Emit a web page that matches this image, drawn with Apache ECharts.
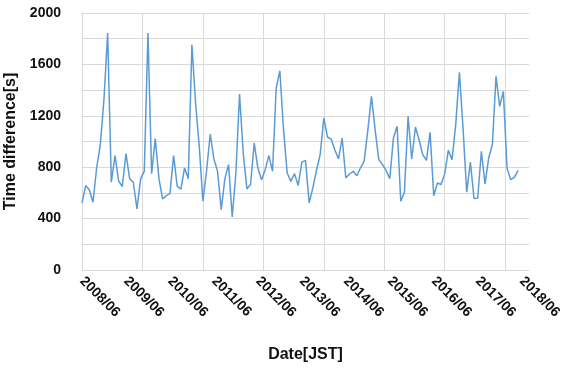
<!doctype html>
<html>
<head>
<meta charset="utf-8">
<title>Time difference</title>
<script src="https://cdn.jsdelivr.net/npm/echarts@6/dist/echarts.min.js"></script>
<style>
  html, body { margin: 0; padding: 0; background: #fff; }
  #main { width: 564px; height: 368px; }
</style>
</head>
<body>
<div id="main"></div>
<script>
// monthly values, 2008/06 .. 2018/05
var startYear = 2008, startMonth = 6, monthCount = 123;
var timeDiff = [
  522, 657, 625, 527, 794, 975, 1330, 1844, 683, 890, 694, 650, 905, 711, 683, 475, 711, 768, 1844, 750,
  1022, 711, 553, 579, 594, 890, 650, 630, 794, 711, 1753, 1300, 962, 535, 773, 1058, 864, 768, 470, 711,
  820, 413, 755, 1370, 911, 631, 665, 988, 794, 703, 781, 892, 768, 1416, 1551, 1092, 755, 690, 750, 657,
  840, 853, 522, 638, 776, 898, 1183, 1035, 1019, 936, 864, 1027, 716, 747, 768, 734, 794, 846, 1084, 1351,
  1092, 859, 820, 775, 711, 1027, 1118, 535, 605, 1196, 864, 1113, 1014, 898, 853, 1071, 578, 677, 665, 750,
  932, 859, 1131, 1538, 1100, 605, 840, 556, 560, 923, 670, 872, 975, 1507, 1274, 1390, 794, 703, 721, 776
];
var yTicks = [0, 400, 800, 1200, 1600, 2000];

var months = [];
for (var i = 0; i < monthCount; i++) {
  var m = startMonth - 1 + i;
  var y = startYear + Math.floor(m / 12);
  var mm = (m % 12) + 1;
  months.push(y + '/' + (mm < 10 ? '0' + mm : mm));
}

var myChart = echarts.init(document.getElementById('main'));
var option = {
  animation: false,
  textStyle: { fontFamily: 'Liberation Sans, Arial, sans-serif' },
  grid: { left: 82, top: 13, right: 35, bottom: 98, outerBoundsMode: 'none', containLabel: false },
  xAxis: [{
    type: 'category',
    data: months,
    boundaryGap: false,
    name: 'Date[JST]',
    nameLocation: 'middle',
    nameGap: 77,
    nameTextStyle: { fontSize: 16, fontWeight: 'bold', color: '#111' },
    axisLine: { lineStyle: { color: '#d9d9d9' } },
    axisTick: { show: false },
    splitLine: { show: false },
    axisLabel: { interval: 11, rotate: -45, margin: 9, fontSize: 14, fontWeight: 'bold', color: '#111' }
  }, {
    // vertical grid lines of the original sit every 16.5 months
    type: 'value',
    min: 0,
    max: monthCount - 1,
    interval: 16.5,
    position: 'bottom',
    axisLine: { show: false },
    axisTick: { show: false },
    axisLabel: { show: false },
    splitLine: { show: true, showMinLine: false, showMaxLine: false, lineStyle: { color: '#d9d9d9' } }
  }],
  yAxis: {
    type: 'value',
    min: 0,
    max: 2000,
    interval: 200,
    name: 'Time difference[s]',
    nameLocation: 'middle',
    nameGap: 61,
    nameTextStyle: { fontSize: 16, fontWeight: 'bold', color: '#111' },
    axisLine: { show: true, lineStyle: { color: '#d9d9d9' } },
    axisTick: { show: false },
    splitLine: { lineStyle: { color: '#d9d9d9' } },
    axisLabel: {
      margin: 21,
      fontSize: 14,
      fontWeight: 'bold',
      color: '#111',
      formatter: function (v) { return yTicks.indexOf(v) >= 0 ? String(v) : ''; }
    }
  },
  series: [{
    type: 'line',
    data: timeDiff,
    showSymbol: false,
    lineStyle: { color: '#5b9bd5', width: 1.5 },
    itemStyle: { color: '#5b9bd5' }
  }]
};
myChart.setOption(option);
</script>
</body>
</html>
